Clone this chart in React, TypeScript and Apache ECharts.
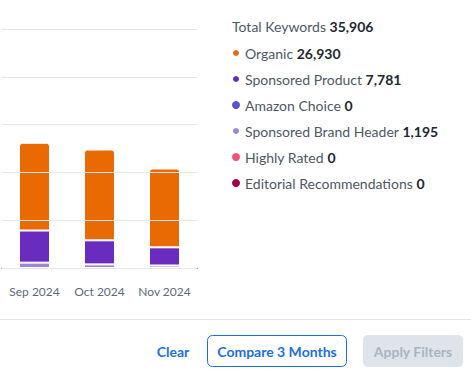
import React, { useEffect, useRef } from "react";
import * as echarts from "echarts";

const categories = ["Sep 2024", "Oct 2024", "Nov 2024"];
const organic = [9180, 9500, 8250];
const sponsoredProduct = [3360, 2520, 1901];
const amazonChoice = [0, 0, 0];
const sponsoredBrandHeader = [560, 375, 260];
const highlyRated = [0, 0, 0];
const editorialRecommendations = [0, 0, 0];
const yTickValues = [0, 5000, 10000, 15000, 20000, 25000];

const seriesDefs = [
  { name: "Organic", data: organic, color: "#E96A03" },
  { name: "Sponsored Product", data: sponsoredProduct, color: "#6A2CBE" },
  { name: "Amazon Choice", data: amazonChoice, color: "#5653D8" },
  { name: "Sponsored Brand Header", data: sponsoredBrandHeader, color: "#9D85D8" },
  { name: "Highly Rated", data: highlyRated, color: "#F2527C" },
  { name: "Editorial Recommendations", data: editorialRecommendations, color: "#A3024B" },
];
// stacking order bottom -> top
const stackOrder = [
  "Sponsored Brand Header",
  "Amazon Choice",
  "Highly Rated",
  "Editorial Recommendations",
  "Sponsored Product",
  "Organic",
];

const FONT = "Lato";
const BLUE = "#1b6fe0";

export default function App() {
  const ref = useRef<HTMLDivElement>(null);
  useEffect(() => {
    if (!ref.current) return;
    const chart = echarts.init(ref.current, undefined, { renderer: "svg" });
    const sum = (a: number[]) => a.reduce((s, v) => s + v, 0);
    const fmt = (n: number) => n.toLocaleString("en-US");
    const totals: Record<string, number> = {};
    seriesDefs.forEach((s) => (totals[s.name] = sum(s.data)));
    const grand = sum(Object.values(totals));

    const series: any[] = stackOrder.map((name) => {
      const d = seriesDefs.find((s) => s.name === name)!;
      const isTop = name === "Organic";
      const nonZero = sum(d.data) > 0;
      return {
        name,
        type: "bar",
        stack: "kw",
        barWidth: 31,
        data: d.data,
        itemStyle: {
          color: d.color,
          borderColor: "#fff",
          borderWidth: nonZero ? 1 : 0,
          borderRadius: isTop ? [3, 3, 0, 0] : 0,
        },
      };
    });

    const richStyles = {
      n: { fontFamily: FONT, fontSize: 14, fontWeight: "normal", color: "#4d5866" },
      v: { fontFamily: FONT, fontSize: 14, fontWeight: "bold", color: "#1e2631" },
    };

    const option: any = {
      animation: false,
      textStyle: { fontFamily: FONT },
      title: {
        left: 232,
        top: 19,
        padding: 0,
        text: `{n|Total Keywords} {v|${fmt(grand)}}`,
        textStyle: { fontWeight: "normal", fontSize: 14, rich: richStyles },
      },
      legend: {
        orient: "vertical",
        left: 231,
        top: 46,
        padding: 0,
        icon: "circle",
        itemWidth: 8,
        itemHeight: 8,
        itemGap: 12,
        selectedMode: false,
        data: seriesDefs.map((s) => ({ name: s.name, itemStyle: { color: s.color } })),
        formatter: (name: string) => `{n|${name}} {v|${fmt(totals[name])}}`,
        textStyle: { fontSize: 14, rich: richStyles },
      },
      grid: { left: 2, right: 274, top: 29, bottom: 105 },
      xAxis: {
        type: "category",
        data: categories,
        axisTick: { show: false },
        axisLine: { lineStyle: { color: "#333", width: 1.2 } },
        axisLabel: { color: "#5d6a79", fontSize: 12, fontFamily: FONT, margin: 17, interval: 0 },
      },
      yAxis: {
        type: "value",
        min: yTickValues[0],
        max: yTickValues[yTickValues.length - 1],
        interval: yTickValues[1] - yTickValues[0],
        z: 3,
        axisLabel: { show: false },
        axisLine: { show: false },
        axisTick: { show: false },
        splitLine: { lineStyle: { color: "#e6e6e6", width: 1 } },
      },
      series,
      graphic: [
        {
          type: "line",
          shape: { x1: 0, y1: 319.5, x2: 471, y2: 319.5 },
          style: { stroke: "#e1e2e7", lineWidth: 1.2 },
        },
        {
          type: "text",
          x: 173,
          y: 351,
          style: {
            text: "Clear",
            fill: BLUE,
            font: `bold 14px ${FONT}`,
            textAlign: "center",
            textVerticalAlign: "middle",
          },
        },
        {
          type: "rect",
          shape: { x: 207.5, y: 335.5, width: 139, height: 31, r: 5 },
          style: { fill: "#fff", stroke: BLUE, lineWidth: 1 },
        },
        {
          type: "text",
          x: 277,
          y: 351,
          style: {
            text: "Compare 3 Months",
            fill: BLUE,
            font: `bold 14px ${FONT}`,
            textAlign: "center",
            textVerticalAlign: "middle",
          },
        },
        {
          type: "rect",
          shape: { x: 363, y: 335, width: 100, height: 32, r: 5 },
          style: { fill: "#dfe4ea" },
        },
        {
          type: "text",
          x: 413,
          y: 351,
          style: {
            text: "Apply Filters",
            fill: "#a9b4c2",
            font: `bold 14px ${FONT}`,
            textAlign: "center",
            textVerticalAlign: "middle",
          },
        },
      ],
    };
    chart.setOption(option);
    return () => chart.dispose();
  }, []);
  return (
    <div
      ref={ref}
      style={{ position: "fixed", left: 0, top: 0, width: 471, height: 373, background: "#fff" }}
    />
  );
}
